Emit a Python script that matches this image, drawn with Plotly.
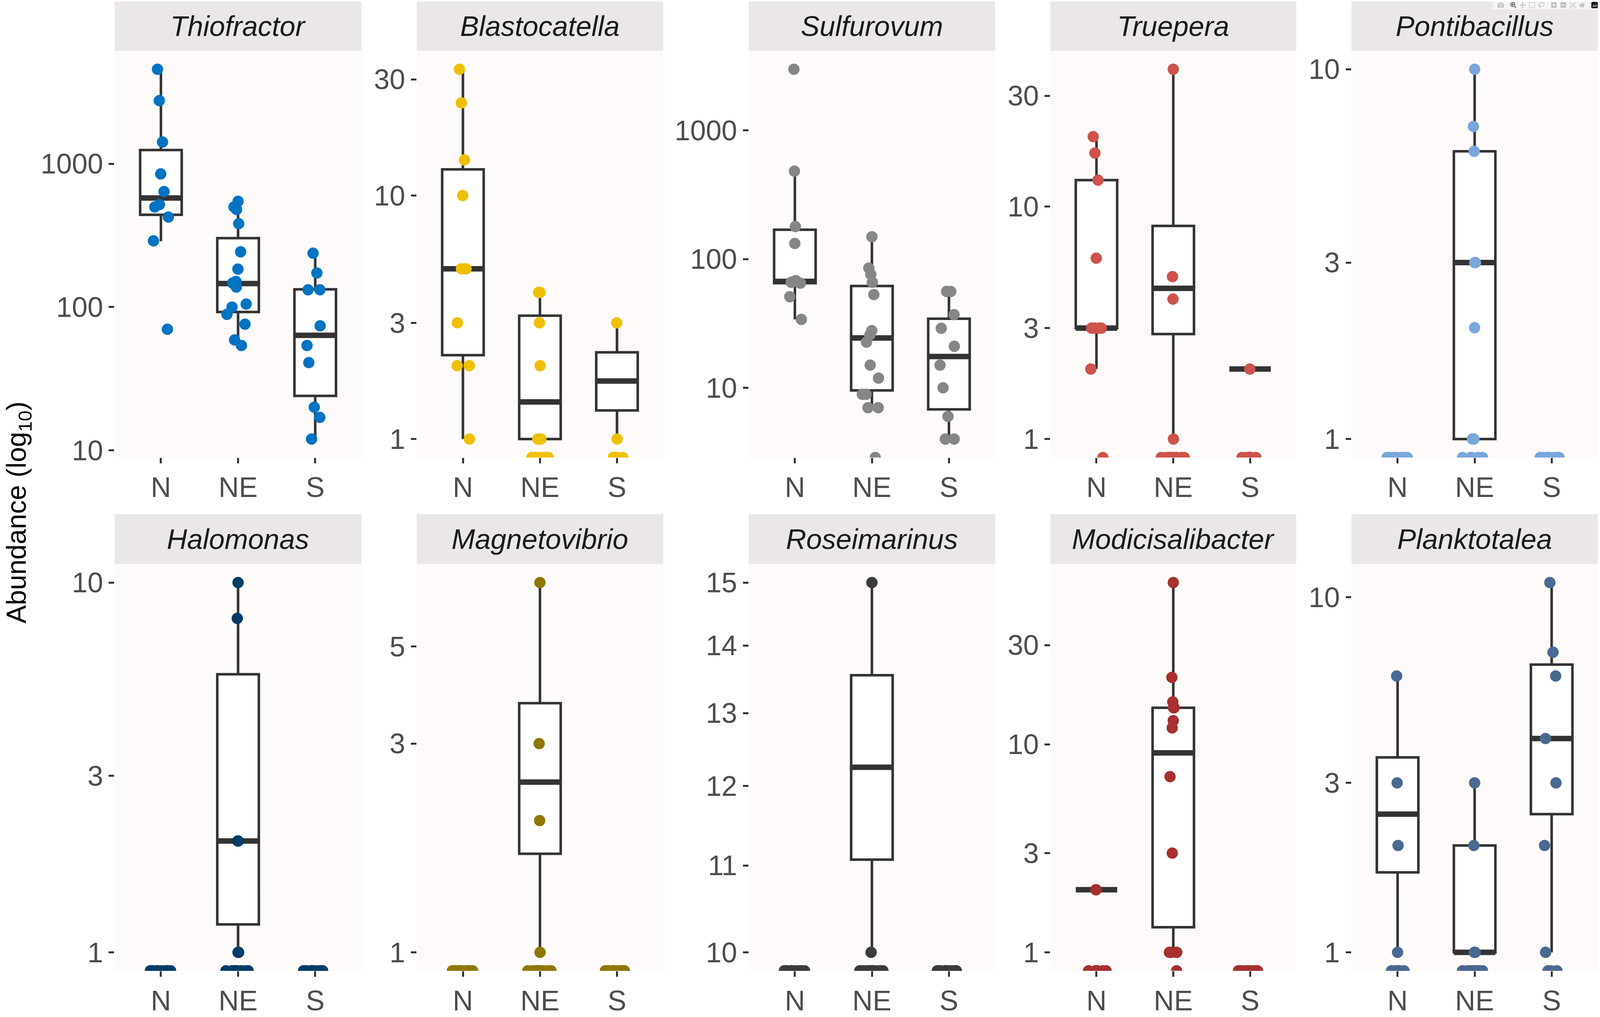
import numpy as np
import plotly.graph_objects as go

# ---------------- data ----------------
groups = ["N", "NE", "S"]
genera = ["Thiofractor", "Blastocatella", "Sulfurovum", "Truepera", "Pontibacillus",
          "Halomonas", "Magnetovibrio", "Roseimarinus", "Modicisalibacter", "Planktotalea"]
colors = ["#0073C2", "#EFC000", "#868686", "#CD534C", "#7AA6DC",
          "#003C67", "#8F7700", "#3B3B3B", "#A73030", "#4A6990"]

# y tick labels per panel
ticks_thiofractor = [10, 100, 1000]
ticks_blastocatella = [1, 3, 10, 30]
ticks_sulfurovum = [10, 100, 1000]
ticks_truepera = [1, 3, 10, 30]
ticks_pontibacillus = [1, 3, 10]
ticks_halomonas = [1, 3, 10]
ticks_magnetovibrio = [1, 3, 5]
ticks_roseimarinus = [10, 11, 12, 13, 14, 15]
ticks_modicisalibacter = [1, 3, 10, 30]
ticks_planktotalea = [1, 3, 10]

# point values per group (0 = zero abundance, drawn on the panel floor)
thiofractor_N = [4570, 2760, 1420, 850, 640, 520, 500, 425, 290, 70]
thiofractor_NE = [547, 500, 480, 382, 243, 184, 151, 147, 138, 105, 100, 89, 76, 59, 54]
thiofractor_S = [238, 173, 132, 132, 74, 54, 41, 20, 17, 12]

blastocatella_N = [33, 24, 14, 10, 5, 5, 3, 2, 2, 1]
blastocatella_NE = [4, 4, 3, 2, 1, 1, 1, 1, 0, 0, 0, 0, 0, 0, 0]
blastocatella_S = [3, 1, 0, 0, 0, 0, 0, 0, 0, 0]

sulfurovum_N = [2980, 482, 179, 132, 68, 67, 66, 65, 51, 34]
sulfurovum_NE = [149, 85, 76, 66, 53, 27.8, 25.8, 22.6, 15, 11.9, 8.9, 8.9, 7, 7, 0]
sulfurovum_S = [56, 56, 37, 29, 21, 15, 10, 6, 4, 4]

truepera_N = [20, 17, 13, 6, 3, 3, 3, 3, 2, 0]
truepera_NE = [39, 5, 4, 1, 0, 0, 0, 0, 0, 0, 0, 0, 0, 0, 0]
truepera_S = [2, 0, 0, 0, 0, 0, 0, 0, 0, 0]

pontibacillus_N = [0, 0, 0, 0, 0, 0, 0, 0, 0, 0]
pontibacillus_NE = [10, 7, 6, 3, 3, 2, 1, 1, 1, 0, 0, 0, 0, 0, 0]
pontibacillus_S = [0, 0, 0, 0, 0, 0, 0, 0, 0, 0]

halomonas_N = [0, 0, 0, 0, 0, 0, 0, 0, 0, 0]
halomonas_NE = [10, 8, 2, 2, 1, 1, 0, 0, 0, 0, 0, 0, 0, 0, 0]
halomonas_S = [0, 0, 0, 0, 0, 0, 0, 0, 0, 0]

magnetovibrio_N = [0, 0, 0, 0, 0, 0, 0, 0, 0, 0]
magnetovibrio_NE = [7, 3, 2, 1, 0, 0, 0, 0, 0, 0, 0, 0, 0, 0, 0]
magnetovibrio_S = [0, 0, 0, 0, 0, 0, 0, 0, 0, 0]

roseimarinus_N = [0, 0, 0, 0, 0, 0, 0, 0, 0, 0]
roseimarinus_NE = [15, 10, 0, 0, 0, 0, 0, 0, 0, 0, 0, 0, 0, 0, 0]
roseimarinus_S = [0, 0, 0, 0, 0, 0, 0, 0, 0, 0]

modicisalibacter_N = [2, 2, 0, 0, 0, 0, 0, 0, 0, 0]
modicisalibacter_NE = [60, 21, 16, 15, 15, 13, 12, 7, 3, 1, 1, 1, 1, 1, 0]
modicisalibacter_S = [0, 0, 0, 0, 0, 0, 0, 0, 0, 0]

planktotalea_N = [6, 3, 2, 1, 0, 0, 0, 0, 0, 0]
planktotalea_NE = [3, 2, 1, 1, 1, 0, 0, 0, 0, 0, 0, 0, 0, 0, 0]
planktotalea_S = [11, 7, 6, 4, 3, 2, 1, 0, 0, 0]

# box statistics per group: [lower whisker, Q1, median, Q3, upper whisker]; None = no box
thiofractor_box = [[288, 441, 577, 1248, 4570], [54, 92.5, 146, 303, 547], [12, 24, 63.5, 133, 238]]
blastocatella_box = [[1, 2.21, 5, 12.8, 33], [1, 1, 1.42, 3.21, 4], [1, 1.31, 1.73, 2.27, 3]]
sulfurovum_box = [[34, 65, 67, 169, 480], [7, 9.55, 24.4, 61.8, 149], [4, 6.8, 17.5, 34.4, 55]]
truepera_box = [[2, 3, 3, 13, 20], [1, 2.83, 4.45, 8.26, 39], [2, 2, 2, 2, 2]]
pontibacillus_box = [None, [1, 1, 3, 6, 10], None]
halomonas_box = [None, [1, 1.19, 2, 5.65, 10], None]
magnetovibrio_box = [None, [1, 1.68, 2.45, 3.71, 7], None]
roseimarinus_box = [None, [10, 11.07, 12.25, 13.55, 15], None]
modicisalibacter_box = [[2, 2, 2, 2, 2], [1, 1.32, 9.1, 15, 60], None]
planktotalea_box = [[1, 1.68, 2.45, 3.54, 6], [1, 1, 1, 2, 3], [1, 2.45, 4, 6.46, 11]]

points = [
    [thiofractor_N, thiofractor_NE, thiofractor_S],
    [blastocatella_N, blastocatella_NE, blastocatella_S],
    [sulfurovum_N, sulfurovum_NE, sulfurovum_S],
    [truepera_N, truepera_NE, truepera_S],
    [pontibacillus_N, pontibacillus_NE, pontibacillus_S],
    [halomonas_N, halomonas_NE, halomonas_S],
    [magnetovibrio_N, magnetovibrio_NE, magnetovibrio_S],
    [roseimarinus_N, roseimarinus_NE, roseimarinus_S],
    [modicisalibacter_N, modicisalibacter_NE, modicisalibacter_S],
    [planktotalea_N, planktotalea_NE, planktotalea_S],
]
boxes = [thiofractor_box, blastocatella_box, sulfurovum_box, truepera_box, pontibacillus_box,
         halomonas_box, magnetovibrio_box, roseimarinus_box, modicisalibacter_box, planktotalea_box]
yticks = [ticks_thiofractor, ticks_blastocatella, ticks_sulfurovum, ticks_truepera, ticks_pontibacillus,
          ticks_halomonas, ticks_magnetovibrio, ticks_roseimarinus, ticks_modicisalibacter, ticks_planktotalea]

# ---------------- layout geometry (design grid 4550 x 2603, used as fractions) ----------------
W, H = 4550, 2603
FIG_W, FIG_H = 4096, 2603          # actual browser viewport
FONT = "Liberation Sans, Arial, Helvetica, sans-serif"
cols_px = [(326, 1028), (1185, 1886), (2129, 2830), (2987, 3686), (3843, 4544)]
panel_rows_px = [(131, 1181), (1456, 2506)]
strip_rows_px = [(4, 131), (1327, 1456)]
PANEL_BG = "#FDFAF9"
STRIP_BG = "#EBE7E7"
BOX_LINE = "#333333"
TICK_FONT = 72

fig = go.Figure()
layout = {}
shapes = []
annotations = []

for k, genus in enumerate(genera):
    sfx = "" if k == 0 else str(k + 1)
    xa, ya = "x" + sfx, "y" + sfx
    row, col = divmod(k, 5)
    c = colors[k]

    nonzero = [v for grp in points[k] for v in grp if v > 0]
    lo, hi = np.log10(min(nonzero)), np.log10(max(nonzero))
    pad = 0.05 * (hi - lo)
    ylo, yhi = lo - pad, hi + pad
    floor_val = 10 ** ylo

    # boxes
    bstats = [(g, s) for g, s in zip(groups, boxes[k]) if s is not None]
    bx = [g for g, s in bstats]
    fig.add_trace(go.Box(
        x=bx,
        lowerfence=[s[0] for g, s in bstats], q1=[s[1] for g, s in bstats],
        median=[s[2] for g, s in bstats], q3=[s[3] for g, s in bstats],
        upperfence=[s[4] for g, s in bstats],
        fillcolor="white", line=dict(color=BOX_LINE, width=6.5), whiskerwidth=0,
        boxpoints=False, xaxis=xa, yaxis=ya, showlegend=False, hoverinfo="skip"))
    # thick median
    meds = [s[2] for g, s in bstats]
    fig.add_trace(go.Box(
        x=bx, lowerfence=meds, q1=meds, median=meds, q3=meds, upperfence=meds,
        fillcolor="rgba(0,0,0,0)", line=dict(color=BOX_LINE, width=14), whiskerwidth=0,
        boxpoints=False, xaxis=xa, yaxis=ya, showlegend=False, hoverinfo="skip"))
    # jittered points
    xs, ys = [], []
    for g, grp in zip(groups, points[k]):
        for v in grp:
            xs.append(g)
            ys.append(v if v > 0 else floor_val)
    fig.add_trace(go.Box(
        x=xs, y=ys, boxpoints="all", jitter=0.6, pointpos=0,
        fillcolor="rgba(0,0,0,0)", line=dict(width=0, color=c),
        marker=dict(color=c, size=29, opacity=1),
        xaxis=xa, yaxis=ya, showlegend=False, hoverinfo="skip"))

    x0, x1 = cols_px[col]
    py0, py1 = panel_rows_px[row]
    sy0, sy1 = strip_rows_px[row]
    axis_common = dict(ticks="outside", ticklen=14, tickwidth=5, tickcolor=BOX_LINE,
                       showgrid=False, zeroline=False, showline=False,
                       tickfont=dict(size=TICK_FONT, color="#4D4D4D", family=FONT))
    layout["xaxis" + sfx] = dict(domain=[x0 / W, x1 / W], anchor=ya, type="category",
                                 categoryorder="array", categoryarray=groups,
                                 range=[-0.6, 2.6], **axis_common)
    layout["yaxis" + sfx] = dict(domain=[1 - py1 / H, 1 - py0 / H], anchor=xa, type="log",
                                 range=[ylo, yhi], tickmode="array", tickvals=yticks[k],
                                 ticktext=[str(t) for t in yticks[k]], **axis_common)
    shapes.append(dict(type="rect", xref="paper", yref="paper",
                       x0=x0 / W, x1=x1 / W, y0=1 - sy1 / H, y1=1 - sy0 / H,
                       fillcolor=STRIP_BG, line=dict(width=0), layer="below"))
    annotations.append(dict(text=genus, xref="paper", yref="paper",
                            x=(x0 + x1) / 2 / W, y=1 - (sy0 + sy1) / 2 / H,
                            xanchor="center", yanchor="middle", showarrow=False,
                            font=dict(size=TICK_FONT, color="#1A1A1A", family=FONT, style="italic")))

annotations.append(dict(text="Abundance (log<sub>10</sub>)", xref="paper", yref="paper",
                        x=52 / W, y=1 - 1323 / H, xanchor="center", yanchor="middle",
                        textangle=-90, showarrow=False,
                        font=dict(size=70, color="black", family=FONT)))

fig.update_layout(
    width=FIG_W, height=FIG_H, autosize=False,
    margin=dict(l=0, r=0, t=0, b=0, pad=0),
    paper_bgcolor="white", plot_bgcolor=PANEL_BG,
    boxmode="overlay", boxgap=0.23,
    shapes=shapes, annotations=annotations,
    font=dict(family=FONT),
    **layout)

# make the figure fill the browser viewport exactly
post = """
(function(){
  document.documentElement.style.margin = '0';
  document.documentElement.style.overflow = 'hidden';
  document.body.style.margin = '0';
  document.body.style.overflow = 'hidden';
  var gd = document.getElementsByClassName('plotly-graph-div')[0];
  var w = window.innerWidth, h = window.innerHeight;
  if (gd && (w !== %d || h !== %d)) { Plotly.relayout(gd, {width: w, height: h}); }
})();
""" % (FIG_W, FIG_H)

fig.write_html("out.html", post_script=post)
